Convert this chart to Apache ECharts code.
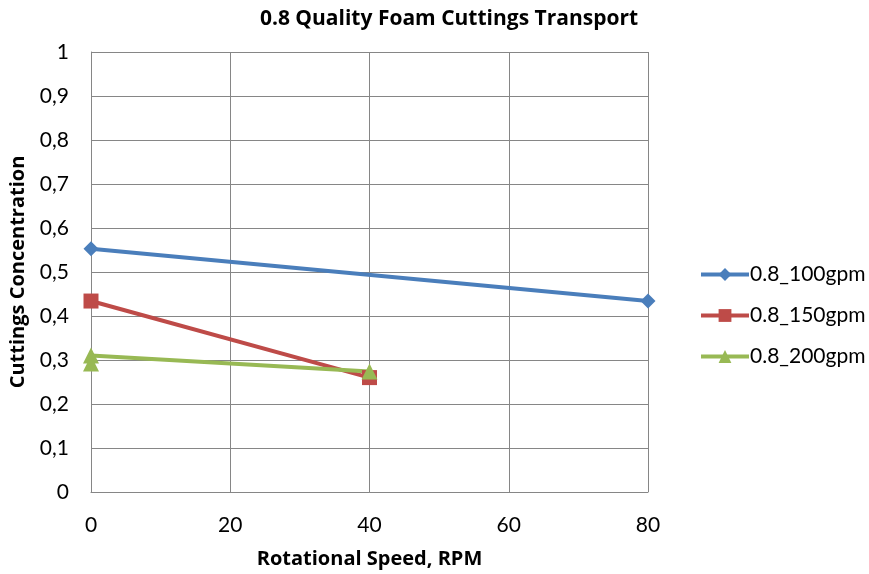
<!DOCTYPE html>
<html><head><meta charset="utf-8">
<script src="https://cdn.jsdelivr.net/npm/echarts@6/dist/echarts.min.js"></script>
<style>html,body{margin:0;padding:0;background:#fff}#c{width:869px;height:574px}</style>
</head><body><div id="c"></div>
<script>
const title = '0.8 Quality Foam Cuttings Transport';
const xName = 'Rotational Speed, RPM';
const yName = 'Cuttings Concentration';
const seriesNames = ['0.8_100gpm', '0.8_150gpm', '0.8_200gpm'];
const s100 = [[0, 0.553], [80, 0.434]];
const s150 = [[0, 0.434], [40, 0.26]];
const s200 = [[0, 0.292], [0, 0.31], [40, 0.274]];
const colors = ['#4A7EBB', '#BE4B48', '#98B954'];
const symbols = ['diamond', 'rect', 'triangle'];
const symbolSizes = [15, 15, 16];
const dataSets = [s100, s150, s200];
const font = 'Lato, "Open Sans", sans-serif';
const boldFont = '"Open Sans", Lato, sans-serif';

const chart = echarts.init(document.getElementById('c'));
chart.setOption({
  animation: false,
  textStyle: { fontFamily: font },
  title: { text: title, left: 444, top: 4, textAlign: 'center',
    textStyle: { fontSize: 21, fontWeight: 'bold', color: '#000', fontFamily: boldFont } },
  grid: { left: 89, right: 221, top: 52, bottom: 80, containLabel: false },
  legend: {
    orient: 'vertical', left: 694, top: 259, itemGap: 20,
    itemWidth: 48, itemHeight: 16,
    textStyle: { fontSize: 21, color: '#000', fontFamily: font, padding: [0, 0, 0, -4] },
    data: seriesNames.map((n, i) => ({
      name: n,
      itemStyle: { color: colors[i] },
      lineStyle: { color: colors[i], width: 4 }
    }))
  },
  xAxis: {
    type: 'value', min: 0, max: 80, interval: 20,
    name: xName, nameLocation: 'middle', nameGap: 57,
    nameTextStyle: { fontSize: 20, fontWeight: 'bold', color: '#000', fontFamily: boldFont },
    axisLine: { show: true, lineStyle: { color: '#868686' } },
    axisTick: { show: false },
    axisLabel: { fontSize: 21, color: '#000', margin: 23 },
    splitLine: { show: true, lineStyle: { color: '#868686', width: 1 } }
  },
  yAxis: {
    type: 'value', min: 0, max: 1, interval: 0.1,
    name: yName, nameLocation: 'middle', nameGap: 63,
    nameTextStyle: { fontSize: 20, fontWeight: 'bold', color: '#000', fontFamily: boldFont },
    axisLine: { show: true, lineStyle: { color: '#868686' } },
    axisTick: { show: false },
    axisLabel: { fontSize: 21, color: '#000', margin: 22,
      formatter: v => (Math.round(v * 10) / 10).toString().replace('.', ',') },
    splitLine: { show: true, lineStyle: { color: '#868686', width: 1 } }
  },
  series: dataSets.map((d, i) => ({
    name: seriesNames[i], type: 'line', data: d,
    symbol: symbols[i], symbolSize: symbolSizes[i], showAllSymbol: true,
    itemStyle: { color: colors[i] },
    lineStyle: { color: colors[i], width: 4 }
  }))
});
</script></body></html>
